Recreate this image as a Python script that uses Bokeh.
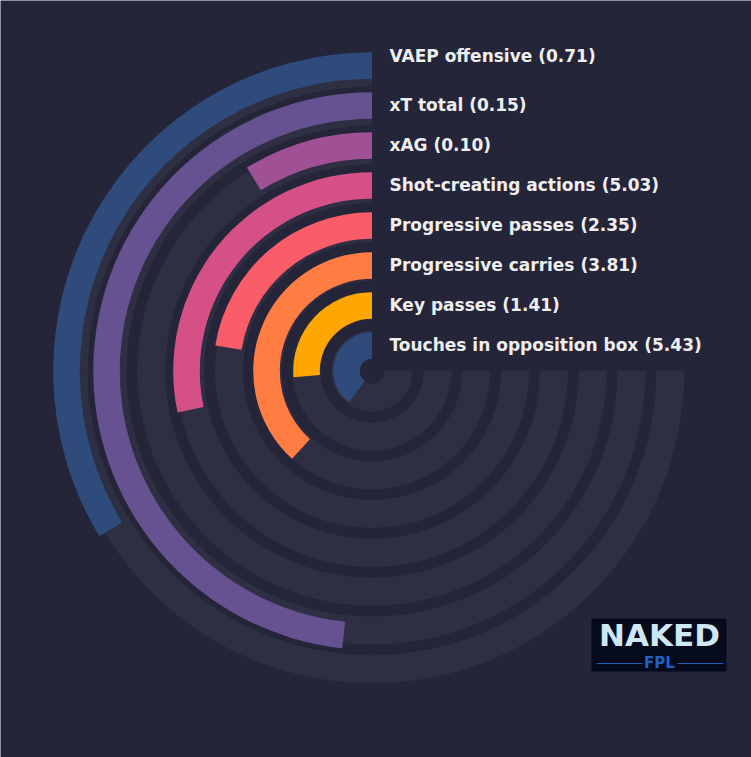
import numpy as np
from bokeh.plotting import figure
from bokeh.models import Range1d, ColumnDataSource
from bokeh.embed import file_html
from bokeh.resources import INLINE
from bokeh.core.properties import value

# ---- data (innermost ring first) ----
labels = ["Touches in opposition box", "Key passes", "Progressive carries",
          "Progressive passes", "Shot-creating actions", "xAG", "xT total",
          "VAEP offensive"]
values = [5.43, 1.41, 3.81, 2.35, 5.03, 0.10, 0.15, 0.71]
percentiles = [53.3, 35.0, 51.0, 29.9, 37.8, 11.7, 64.4, 44.9]
colors = ["#2f4b7c", "#ffa600", "#ff7c43", "#f95d6a", "#d45087",
          "#a05195", "#665191", "#2f4b7c"]

BG = "#25253a"
TRACK = "#2f2f44"
TEXT = "#eeeeee"

W, H = 751, 757
p = figure(width=W, height=H, x_range=Range1d(0, W), y_range=Range1d(0, H),
           output_backend="svg", toolbar_location=None, min_border=0)
p.axis.visible = False
p.grid.visible = False
p.outline_line_color = None
p.background_fill_color = BG
p.border_fill_color = BG

cx, cy = 371.5, 386.5
n = len(labels)
k = np.arange(n)
track_inner = 12.7 + 38.8 * k
track_outer = track_inner + 28.0
bar_inner = 12.2 + 40.0 * k
bar_outer = bar_inner + 26.6
sweep = 1.5 * np.pi
start = np.pi / 2

tracks = ColumnDataSource(dict(ri=track_inner, ro=track_outer))
p.annular_wedge(x=cx, y=cy, inner_radius="ri", outer_radius="ro",
                start_angle=start, end_angle=start + sweep, direction="anticlock",
                fill_color=TRACK, line_color=None, source=tracks)

ends = start + np.array(percentiles) / 100.0 * sweep
bars = ColumnDataSource(dict(ri=bar_inner, ro=bar_outer, ea=ends, c=colors))
p.annular_wedge(x=cx, y=cy, inner_radius="ri", outer_radius="ro",
                start_angle=start, end_angle="ea", direction="anticlock",
                fill_color="c", line_color=None, source=bars)

p.circle(x=[cx], y=[cy], radius=12, fill_color=BG, line_color=None)

label_text = [f"{l} ({v:.2f})" for l, v in zip(labels, values)]
mid_r = (bar_inner + bar_outer) / 2
label_y = cy + mid_r + 1.0
label_y[-1] += 9.0
p.text(x=[389] * n, y=list(label_y), text=label_text,
       text_font=value("DejaVu Sans"), text_font_style="bold",
       text_font_size="17px", text_color=TEXT,
       text_align="left", text_baseline="middle")

# ---- logo ----
p.quad(left=[591], right=[726], top=[757 - 618], bottom=[757 - 671],
       fill_color="#050a1c", line_color=None)
p.text(x=[659], y=[757 - 634], text=["NAKED"], text_font=value("DejaVu Sans"),
       text_font_style="bold", text_font_size="31px", text_color="#cfe6f4",
       text_align="center", text_baseline="middle")
p.segment(x0=[596, 677], y0=[757 - 663, 757 - 663], x1=[642, 723], y1=[757 - 663, 757 - 663],
          line_color="#1d5fb8", line_width=1.2)
p.text(x=[659], y=[757 - 662], text=["FPL"], text_font=value("DejaVu Sans"),
       text_font_style="bold", text_font_size="15px", text_color="#1f63c8",
       text_align="center", text_baseline="middle")

html = file_html(p, INLINE)
open("out.html", "w").write(html)
